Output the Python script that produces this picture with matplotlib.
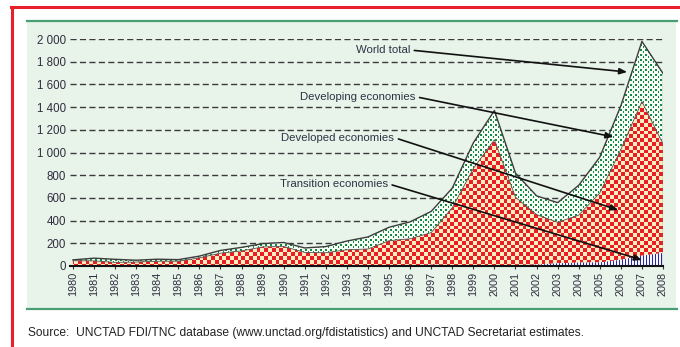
import numpy as np
import matplotlib
matplotlib.use("Agg")
import matplotlib.pyplot as plt
from matplotlib.lines import Line2D
from matplotlib.patches import Rectangle

# FDI inflows by group of economies, 1980-2008 (billions of dollars)
years = list(range(1980, 2009))
transition = [0, 0, 0, 0, 0, 0, 0, 0, 0, 0, 0, 0, 2, 2, 3, 4, 6, 11, 8, 9,
              7, 9, 11, 24, 30, 31, 55, 91, 114]
developed = [47, 45, 32, 35, 42, 42, 72, 113, 133, 168, 172, 120, 115, 141, 147,
             219, 234, 283, 505, 850, 1105, 597, 442, 361, 418, 613, 972, 1358, 962]
developing = [7, 24, 27, 16, 18, 14, 15, 24, 31, 29, 35, 39, 54, 77, 106, 118,
              149, 187, 173, 226, 258, 212, 165, 173, 263, 315, 384, 530, 621]

y_ticks = [0, 200, 400, 600, 800, 1000, 1200, 1400, 1600, 1800, 2000]
y_tick_labels = ["0", "200", "400", "600", "800", "1 000", "1 200", "1 400",
                 "1 600", "1 800", "2 000"]

source_note = ("Source:  UNCTAD FDI/TNC database (www.unctad.org/fdistatistics) "
               "and UNCTAD Secretariat estimates.")

plt.rcParams["font.family"] = ["Liberation Sans", "DejaVu Sans"]

W, H = 680, 347
fig = plt.figure(figsize=(W / 100, H / 100), dpi=100)
fig.patch.set_facecolor("white")

# frame: red border, light green panel with green rules
def fx(px):
    return px / W

def fy(py):
    return 1 - py / H

fig.patches.append(Rectangle((fx(27), fy(309)), fx(676) - fx(27), fy(21) - fy(309),
                             transform=fig.transFigure, facecolor="#e8f3ea",
                             edgecolor="none", zorder=-2))
fig.lines.append(Line2D([fx(27), fx(677)], [fy(21), fy(21)], transform=fig.transFigure,
                        color="#4a9e74", lw=1.6, zorder=-1))
fig.lines.append(Line2D([fx(27), fx(677)], [fy(309), fy(309)], transform=fig.transFigure,
                        color="#4a9e74", lw=1.6, zorder=-1))
fig.lines.append(Line2D([fx(11), fx(680)], [fy(7), fy(7)], transform=fig.transFigure,
                        color="#e8202a", lw=2.2, zorder=-1))
fig.lines.append(Line2D([fx(12), fx(12)], [fy(7), fy(347)], transform=fig.transFigure,
                        color="#e8202a", lw=2.2, zorder=-1))

ax_l, ax_r, ax_b, ax_t = 70, 663, 266, 39
ax = fig.add_axes([fx(ax_l), fy(ax_b), fx(ax_r) - fx(ax_l), fy(ax_t) - fy(ax_b)])
ax.set_zorder(5)
ax.set_facecolor("none")

x0, x1 = 1979.86, 2008.0
ymax = 2000

yrs = np.array(years, dtype=float)
tr = np.array(transition, dtype=float)
dv = np.array(developed, dtype=float)
dg = np.array(developing, dtype=float)
s1 = tr
s2 = tr + dv
s3 = tr + dv + dg

# grid
for v in y_ticks[1:]:
    ax.plot([x0, 2007.95], [v, v], color="#3a3a3a", lw=1.0, dashes=(4.4, 2.4), zorder=1)

# pixel-level texture arrays
pw, ph = ax_r - ax_l, ax_b - ax_t
jj, ii = np.meshgrid(np.arange(pw), np.arange(ph))

def texture(mask, fg, bg):
    img = np.empty((ph, pw, 3))
    img[:] = np.array(bg) / 255.0
    img[mask] = np.array(fg) / 255.0
    return img

checker = ((np.floor(jj / 3.8) + np.floor(ii / 3.8)) % 2) == 0
tex_red = texture(checker, (232, 30, 38), (253, 236, 190))

ri, rj = ii % 5, jj % 5
dots = ((ri < 2) & (rj < 2)) | ((ri == 3) & (rj == 3)) | ((ri == 2) & (rj == 3))
tex_green = texture(dots, (16, 140, 64), (248, 252, 246))

stripes = (jj % 3) == 0
tex_blue = texture(stripes, (40, 40, 150), (245, 245, 255))

def textured_band(lower, upper, tex, z):
    poly = ax.fill_between(yrs, lower, upper, facecolor="none", edgecolor="none", zorder=z)
    im = ax.imshow(tex, extent=(x0, x1, 0, ymax), origin="upper", aspect="auto",
                   interpolation="nearest", zorder=z)
    im.set_clip_path(poly.get_paths()[0], transform=poly.get_transform())

textured_band(s2, s3, tex_green, 2)
textured_band(s1, s2, tex_red, 2)
textured_band(np.zeros_like(s1), s1, tex_blue, 2)

ax.plot(yrs, s3, color="#3c3c3c", lw=1.0, zorder=3)
ax.plot(yrs, s2, color="#555555", lw=0.6, zorder=3)
ax.plot([2008, 2008], [0, s3[-1]], color="#777777", lw=1.0, zorder=3)

ax.set_xlim(x0, x1)
ax.set_ylim(0, ymax)

for side in ("top", "right", "left"):
    ax.spines[side].set_visible(False)
ax.spines["bottom"].set_color("#111111")
ax.spines["bottom"].set_linewidth(1.5)
ax.spines["bottom"].set_zorder(4)

ax.set_yticks(y_ticks)
ax.set_yticklabels(y_tick_labels)
ax.tick_params(axis="y", length=0, pad=3, labelsize=8.3, labelcolor="#2e2e3e")
ax.set_xticks(years)
ax.set_xticklabels([str(y) for y in years], rotation=90)
ax.tick_params(axis="x", length=2.5, width=0.8, color="#333333", pad=1.5,
               labelsize=7.8, labelcolor="#2e2e3e")

# callouts
arrow = dict(arrowstyle="-|>,head_length=0.55,head_width=0.22", color="#111111",
             lw=1.2, shrinkA=1, shrinkB=0, relpos=(1.0, 0.5))
callouts = [
    ("World total", (1996.0, 1903), (2006.3, 1709)),
    ("Developing economies", (1996.25, 1492), (2005.65, 1137)),
    ("Developed economies", (1995.25, 1131), (2005.88, 493)),
    ("Transition economies", (1994.95, 725), (2007.0, 53)),
]
for label, txy, axy in callouts:
    ax.annotate(label, xy=axy, xytext=txy, ha="right", va="center", fontsize=8.2,
                color="#2c3444", arrowprops=arrow, zorder=6)

fig.text(fx(28), fy(333), source_note, fontsize=8.65, color="#222222",
         ha="left", va="center")

fig.savefig("out.png", dpi=100, facecolor="white")
